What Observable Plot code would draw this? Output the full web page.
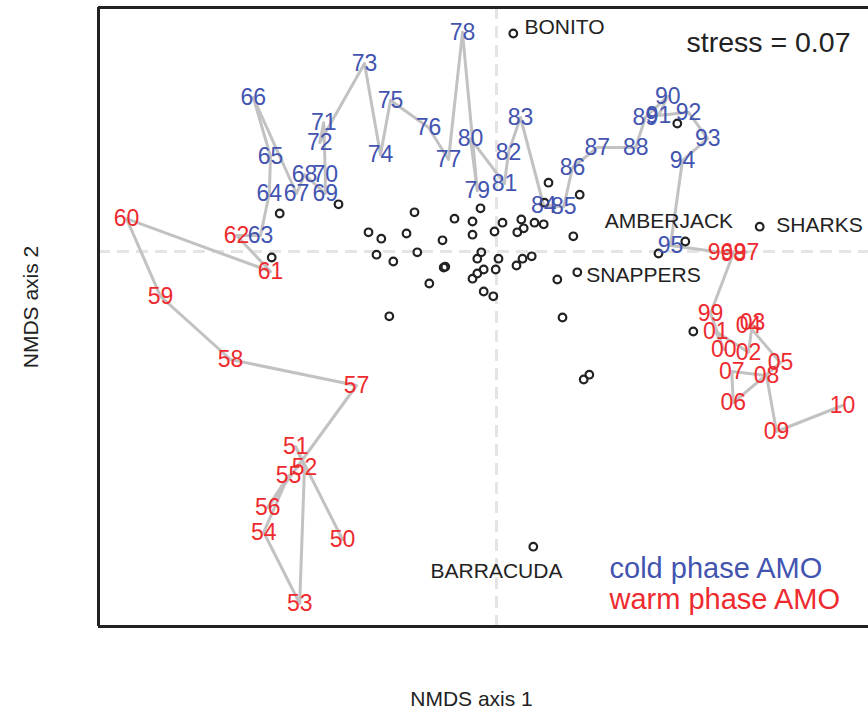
<!DOCTYPE html>
<html>
<head>
<meta charset="utf-8">
<script src="https://cdn.jsdelivr.net/npm/d3@7"></script>
<script src="https://cdn.jsdelivr.net/npm/@observablehq/plot@0.6"></script>
<style>
  html, body { margin: 0; padding: 0; background: #fff; }
  #chart { width: 868px; height: 713px; }
</style>
</head>
<body>
<div id="chart"></div>
<script>
// ---- Year trajectory (NMDS scores of annual assemblages) ----
const years = ["50","51","52","53","54","55","56","57","58","59",
  "60","61","62","63","64","65","66","67","68","69",
  "70","71","72","73","74","75","76","77","78","79",
  "80","81","82","83","84","85","86","87","88","89",
  "90","91","92","93","94","95","96","97","98","99",
  "00","01","02","03","04","05","06","07","08","09","10"];
const yearX = [-0.385,-0.502,-0.480,-0.492,-0.582,-0.520,-0.572,-0.350,-0.665,-0.840,
  -0.925,-0.565,-0.650,-0.590,-0.568,-0.565,-0.608,-0.500,-0.480,-0.428,
  -0.428,-0.432,-0.442,-0.330,-0.290,-0.265,-0.170,-0.120,-0.085,-0.048,
  -0.065,0.020,0.030,0.060,0.118,0.168,0.190,0.252,0.348,0.372,
  0.428,0.405,0.480,0.528,0.465,0.435,0.560,0.625,0.592,0.535,
  0.568,0.548,0.630,0.640,0.630,0.710,0.592,0.588,0.675,0.700,0.865];
const yearY = [-0.720,-0.488,-0.540,-0.880,-0.702,-0.560,-0.640,-0.335,-0.270,-0.112,
  0.082,-0.050,0.040,0.040,0.145,0.238,0.385,0.145,0.192,0.145,
  0.192,0.322,0.272,0.470,0.242,0.378,0.310,0.230,0.548,0.152,
  0.282,0.170,0.248,0.335,0.115,0.112,0.210,0.260,0.260,0.335,
  0.388,0.340,0.348,0.282,0.228,0.015,-0.002,-0.002,-0.005,-0.155,
  -0.245,-0.200,-0.252,-0.178,-0.185,-0.278,-0.378,-0.300,-0.310,-0.450,-0.385];
// AMO phase per year
const coldYears = ["63","64","65","66","67","68","69","70","71","72","73","74","75","76",
  "77","78","79","80","81","82","83","84","85","86","87","88","89","90","91","92","93","94","95"];

// ---- Species scores ----
const speciesX = [-0.542,-0.562,-0.395,-0.320,-0.288,-0.300,-0.258,-0.268,-0.205,-0.225,
  -0.198,-0.135,-0.105,-0.132,-0.128,-0.168,0.042,-0.060,-0.060,-0.040,
  -0.005,0.015,-0.038,-0.048,0.005,-0.032,-0.048,-0.060,-0.002,-0.032,
  -0.008,0.062,0.068,0.052,0.095,0.118,0.130,0.120,0.208,0.192,
  0.088,0.065,0.050,0.152,0.202,0.165,0.405,0.218,0.232,0.092,
  0.452,0.658,0.472,0.492];
const speciesY = [0.095,-0.015,0.118,0.048,0.032,-0.008,-0.025,-0.162,0.098,0.045,
  -0.002,0.028,0.082,-0.040,-0.038,-0.080,0.545,0.075,0.042,0.108,
  0.050,0.072,-0.002,-0.018,-0.018,-0.045,-0.055,-0.068,-0.045,-0.100,
  -0.112,0.080,0.058,0.048,0.072,0.068,0.172,0.122,0.142,0.038,
  -0.012,-0.018,-0.035,-0.070,-0.052,-0.165,-0.005,-0.320,-0.308,-0.738,
  0.320,0.062,0.025,-0.200];
// Named species labels (label centres)
const speciesNames = ["BONITO","SHARKS","SNAPPERS","AMBERJACK","BARRACUDA"];
const labelX = [0.170, 0.8075, 0.3675, 0.431, 0.000];
const labelY = [0.561, 0.066, -0.059, 0.076, -0.799];

const phases = ["cold", "warm"];
const phaseLabels = ["cold phase AMO", "warm phase AMO"];
const stressText = "stress = 0.07";
const xTitle = "NMDS axis 1";
const yTitle = "NMDS axis 2";

// ---- build tables ----
const yearData = years.map((t, i) => ({
  label: t, x: yearX[i], y: yearY[i],
  phase: coldYears.includes(t) ? "cold" : "warm"
}));
const speciesData = speciesX.map((x, i) => ({x, y: speciesY[i]}));
const labelData = speciesNames.map((n, i) => ({name: n, x: labelX[i], y: labelY[i]}));

const BLUE = "#4254b0", RED = "#ee2a2f", INK = "#222222";
const W = 868, H = 713, ML = 98, MT = 7, MB = 87, MR = 0;
const K = 400; // px per NMDS unit
const xDom = [(ML - 496) / K, (W - MR - 496) / K];
const yDom = [(251 - (H - MB)) / K, (251 - MT) / K];

const chart = Plot.plot({
  width: W, height: H,
  marginLeft: ML, marginRight: MR, marginTop: MT, marginBottom: MB,
  x: {domain: xDom, axis: null},
  y: {domain: yDom, axis: null},
  color: {domain: phases, range: [BLUE, RED]},
  style: {fontFamily: "'Liberation Sans', Arial, sans-serif", background: "#fff", overflow: "visible"},
  marks: [
    Plot.ruleY([0], {stroke: "#e4e4e4", strokeWidth: 3, strokeDasharray: "12,7"}),
    Plot.ruleX([0], {stroke: "#e4e4e4", strokeWidth: 3, strokeDasharray: "12,7"}),
    Plot.line(yearData, {x: "x", y: "y", stroke: "#c2c2c2", strokeWidth: 3, strokeLinejoin: "round"}),
    Plot.dot(speciesData, {x: "x", y: "y", r: 3.8, stroke: INK, strokeWidth: 2.2, fill: "none"}),
    Plot.text(yearData, {x: "x", y: "y", text: "label", fill: "phase", fontSize: 23, lineAnchor: "middle"}),
    Plot.text(labelData, {x: "x", y: "y", text: "name", fill: INK, fontSize: 21, lineAnchor: "middle"}),
    Plot.text([stressText], {frameAnchor: "top-right", textAnchor: "end", lineAnchor: "bottom", dx: -18, dy: 44, fontSize: 28.5, fill: INK}),
    Plot.text([phaseLabels[0]], {frameAnchor: "bottom-left", textAnchor: "start", lineAnchor: "bottom", dx: 511, dy: -49, fontSize: 29, fill: BLUE}),
    Plot.text([phaseLabels[1]], {frameAnchor: "bottom-left", textAnchor: "start", lineAnchor: "bottom", dx: 511, dy: -18, fontSize: 29, fill: RED}),
    Plot.text([xTitle], {frameAnchor: "bottom", textAnchor: "middle", lineAnchor: "bottom", dx: -12, dy: 79, fontSize: 21, fill: INK}),
    Plot.text([yTitle], {frameAnchor: "left", textAnchor: "middle", lineAnchor: "bottom", rotate: -90, dx: -61, dy: -10, fontSize: 21, fill: INK}),
    // plot frame (left, top, bottom)
    Plot.ruleX([xDom[0]], {stroke: INK, strokeWidth: 3}),
    Plot.ruleY([yDom[0], yDom[1]], {stroke: INK, strokeWidth: 3})
  ]
});
document.getElementById("chart").appendChild(chart);
</script>
</body>
</html>
